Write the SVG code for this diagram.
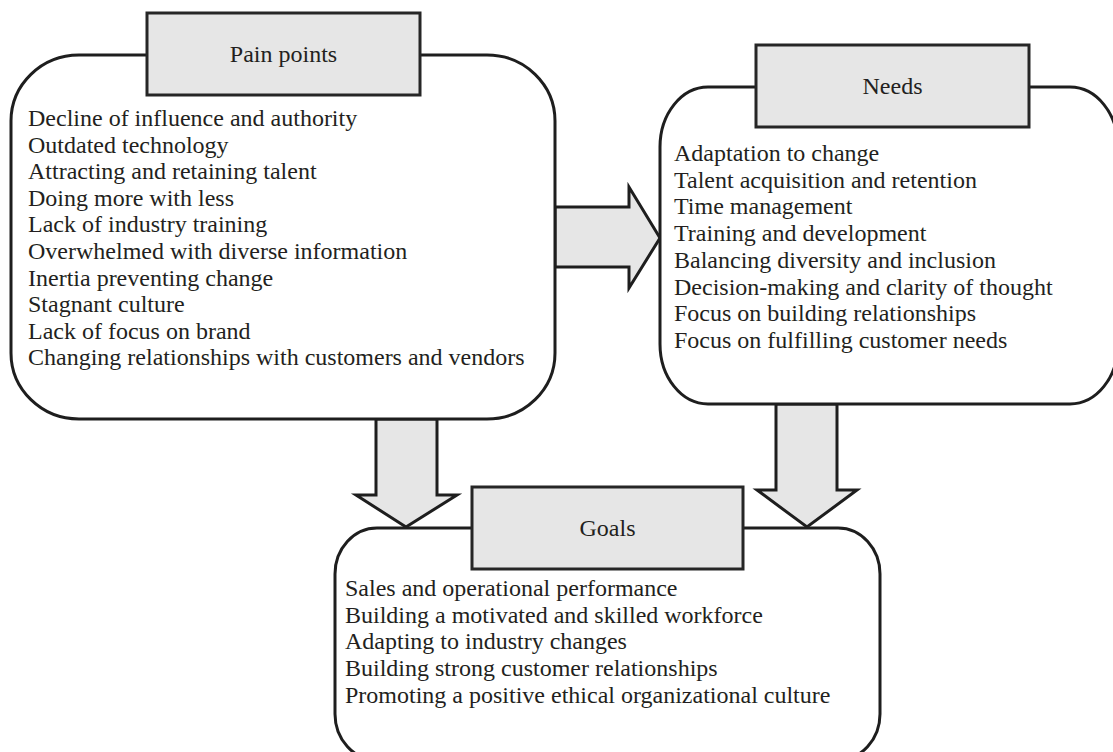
<svg xmlns="http://www.w3.org/2000/svg" width="1113" height="752" viewBox="0 0 1113 752">
<style>
.box{fill:#ffffff;stroke:#1e1e1e;stroke-width:3}
.hdr{fill:#e6e6e6;stroke:#262626;stroke-width:3}
.arr{fill:#e6e6e6;stroke:#1e1e1e;stroke-width:3;stroke-linejoin:miter}
text{font-family:"Liberation Serif","Times New Roman",serif;font-size:24px;fill:#231f20}
.t{text-anchor:middle}
</style>
<rect width="1113" height="752" fill="#ffffff"/>
<g id="connectors">
<polygon class="arr" points="555,207 629,207 629,187 660,238 629,288 629,267 555,267"/>
<polygon class="arr" points="376,419 437,419 437,495 457,495 406,527 356,495 376,495"/>
<polygon class="arr" points="776,404 837,404 837,490 857,490 807,527 757,490 776,490"/>
</g>
<g id="pain-points">
<rect class="box" x="11" y="55" width="544" height="364" rx="68" ry="66"/>
<rect class="hdr" x="147" y="13" width="273" height="82"/>
<text class="t" x="283.5" y="62">Pain points</text>
<text x="28" y="126">Decline of influence and authority</text>
<text x="28" y="152.6">Outdated technology</text>
<text x="28" y="179.2">Attracting and retaining talent</text>
<text x="28" y="205.8">Doing more with less</text>
<text x="28" y="232.4">Lack of industry training</text>
<text x="28" y="259">Overwhelmed with diverse information</text>
<text x="28" y="285.6">Inertia preventing change</text>
<text x="28" y="312.2">Stagnant culture</text>
<text x="28" y="338.8">Lack of focus on brand</text>
<text x="28" y="365.4">Changing relationships with customers and vendors</text>
</g>
<g id="needs">
<rect class="box" x="660" y="87" width="458" height="317" rx="48" ry="60"/>
<rect class="hdr" x="756" y="45" width="273" height="82"/>
<text class="t" x="892.5" y="94">Needs</text>
<text x="674" y="161">Adaptation to change</text>
<text x="674" y="187.7">Talent acquisition and retention</text>
<text x="674" y="214.4">Time management</text>
<text x="674" y="241.1">Training and development</text>
<text x="674" y="267.8">Balancing diversity and inclusion</text>
<text x="674" y="294.5">Decision-making and clarity of thought</text>
<text x="674" y="321.2">Focus on building relationships</text>
<text x="674" y="347.9">Focus on fulfilling customer needs</text>
</g>
<g id="goals">
<rect class="box" x="335" y="528" width="545" height="232" rx="42" ry="46"/>
<rect class="hdr" x="472" y="487" width="271" height="82"/>
<text class="t" x="607.5" y="536">Goals</text>
<text x="345" y="596">Sales and operational performance</text>
<text x="345" y="622.7">Building a motivated and skilled workforce</text>
<text x="345" y="649.4">Adapting to industry changes</text>
<text x="345" y="676.1">Building strong customer relationships</text>
<text x="345" y="702.8">Promoting a positive ethical organizational culture</text>
</g>
</svg>
